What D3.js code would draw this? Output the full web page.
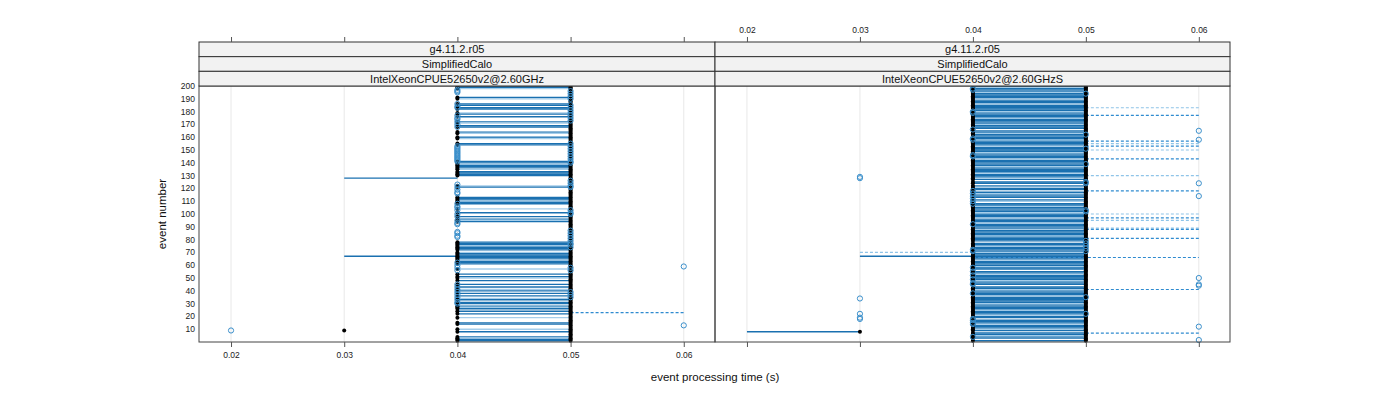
<!DOCTYPE html>
<html><head><meta charset="utf-8">
<script src="https://cdn.jsdelivr.net/npm/d3@7"></script>
<style>body{margin:0;background:#fff}svg{font-family:"Liberation Sans",Arial,sans-serif}</style>
</head><body><svg id="c" width="1400" height="400"></svg>
<script>
// ---------- data ----------
const events = [1,2,3,4,5,6,7,8,9,10,11,12,13,14,15,16,17,18,19,20,21,22,23,24,25,26,27,28,29,30,31,32,33,34,35,36,37,38,39,40,41,42,43,44,45,46,47,48,49,50,51,52,53,54,55,56,57,58,59,60,61,62,63,64,65,66,67,68,69,70,71,72,73,74,75,76,77,78,79,80,81,82,83,84,85,86,87,88,89,90,91,92,93,94,95,96,97,98,99,100,101,102,103,104,105,106,107,108,109,110,111,112,113,114,115,116,117,118,119,120,121,122,123,124,125,126,127,128,129,130,131,132,133,134,135,136,137,138,139,140,141,142,143,144,145,146,147,148,149,150,151,152,153,154,155,156,157,158,159,160,161,162,163,164,165,166,167,168,169,170,171,172,173,174,175,176,177,178,179,180,181,182,183,184,185,186,187,188,189,190,191,192,193,194,195,196,197,198,199,200];
const xTicks = [0.02, 0.03, 0.04, 0.05, 0.06];
const yTicks = [10,20,30,40,50,60,70,80,90,100,110,120,130,140,150,160,170,180,190,200];
const stripRows = ["g4.11.2.r05", "SimplifiedCalo"];
const machines = ["IntelXeonCPUE52650v2@2.60GHz", "IntelXeonCPUE52650v2@2.60GHzS"];

// panel A (left)
const bandA = [200,199,198,191,190,186,185,183,182,179,178,176,172,171,169,168,164,163,160,159,155,154,141,140,139,138,137,136,135,133,132,131,130,122,121,113,112,111,110,109,108,104,101,98,96,95,94,78,77,76,75,74,73,72,70,69,68,67,66,65,64,63,62,61,57,53,51,50,48,45,43,41,40,38,36,34,33,31,30,28,27,26,24,22,19,15,14,10,8,4,3,2,1];
const lightA = [198,190,179,171,163,159,139,135,122,110,104,95,75,70,64,57,50,41,34,27,19,10,3];
const blueA040 = [197,196,195,186,184,183,177,175,174,172,170,168,153,152,151,150,149,148,147,146,145,144,143,142,141,123,121,119,117,116,108,106,105,103,100,98,95,93,92,86,85,83,82,62,60,58,56,45,43,41,39,37,35,33,31,30];
const blueA050 = [196,194,192,190,185,183,181,179,177,175,173,155,153,151,149,147,145,143,141,140,126,124,122,121,103,101,100,87,85,83,81,79,77,76,74,58,56,39,37,35];
const blackA030 = [9];
const blueAother = [[0.02, 9], [0.06, 13], [0.06, 59]];
// [event, from, to, dashed, runs]
const segA = [[128, 0.03, 0.04, 0, 2], [67, 0.03, 0.04, 0, 2], [23, 0.05, 0.06, 1, 2]];

// panel B (right)
const gapsB = [166,126,123,118,112,109,78,56,44,18,8,2];
const lightB = [199,195,190,186,180,175,170,163,158,153,148,143,137,132,128,121,116,110,106,101,97,93,88,83,75,70,64,59,53,48,41,36,30,25,21,14,10,5];
const blueB040 = [198,197,180,179,166,159,158,146,145,118,116,114,112,110,108,92,72,71,58,55,52,49,46,45,38,18,17,15,14,4];
const blueB050 = [194,162,151,139,125,124,103,102,79,77,75,73,71,35,22];
const blackB030 = [8];
const blueBother = [[0.03,128],[0.03,129],[0.03,34],[0.03,22],[0.03,18],[0.03,19],[0.06,165],[0.06,158],[0.06,124],[0.06,114],[0.06,50],[0.06,44],[0.06,45],[0.06,12],[0.06,1]];
const segB = [[8,0.02,0.03,0,2],[67,0.03,0.04,0,2],[70,0.03,0.04,1,1],[66,0.04,0.06,1,2],
  [183,0.05,0.06,1,1],[177,0.05,0.06,1,2],[157,0.05,0.06,1,2],[155,0.05,0.06,1,1],[153,0.05,0.06,1,2],
  [150,0.05,0.06,1,1],[143,0.05,0.06,1,2],[130,0.05,0.06,1,1],[118,0.05,0.06,1,2],[100,0.05,0.06,1,1],
  [97,0.05,0.06,1,2],[95,0.05,0.06,1,1],[89,0.05,0.06,1,1],[88,0.05,0.06,1,2],[81,0.05,0.06,1,2],
  [41,0.05,0.06,1,2],[7,0.05,0.06,1,2]];

// ---------- drawing ----------
const svg = d3.select("#c");
const W0 = 199, W1 = 715, W2 = 1230, TOP = 86, BOT = 342;
const yS = d3.scaleLinear().domain([0, 200]).range([BOT, TOP]);
const xDom = [0.01717, 0.06276];
const colDark = "#1a70b0", colLight = "#a4cdea", colCircle = "#3a8fcb";
const shade = d3.scaleOrdinal().domain([1, 2]).range([colLight, colDark]);
const dashShade = d3.scaleOrdinal().domain([1, 2]).range(["#8fc4e8", "#2f8bd0"]);

const bandB = events.filter(e => gapsB.indexOf(e) < 0);

const panels = [
  {x0: W0, x1: W1, machine: machines[0], band: bandA, light: lightA, black040: bandA, black050: events,
   black030: blackA030, blue040: blueA040, blue050: blueA050, blueOther: blueAother, segs: segA, labelsTop: false},
  {x0: W1, x1: W2, machine: machines[1], band: bandB, light: lightB, black040: bandB, black050: events,
   black030: blackB030, blue040: blueB040, blue050: blueB050, blueOther: blueBother, segs: segB, labelsTop: true}
];

panels.forEach((p, pi) => {
  const x = d3.scaleLinear().domain(xDom).range([p.x0, p.x1]);
  const g = svg.append("g");
  g.selectAll("line.grid").data(xTicks).enter().append("line")
    .attr("x1", d => x(d)).attr("x2", d => x(d)).attr("y1", TOP).attr("y2", BOT)
    .attr("stroke", "#e8e8e8").attr("stroke-width", 1);
  g.selectAll("line.band").data(p.band).enter().append("line")
    .attr("x1", x(0.04)).attr("x2", x(0.05))
    .attr("y1", d => yS(d)).attr("y2", d => yS(d))
    .attr("stroke", d => shade(p.light.indexOf(d) >= 0 ? 1 : 2)).attr("stroke-width", 1.35);
  g.selectAll("line.seg").data(p.segs).enter().append("line")
    .attr("x1", d => x(d[1])).attr("x2", d => x(d[2]))
    .attr("y1", d => yS(d[0])).attr("y2", d => yS(d[0]))
    .style("stroke", d => d[3] ? dashShade(d[4]) : colDark)
    .style("stroke-width", d => d[3] ? "1.2px" : "1.3px")
    .style("stroke-dasharray", d => d[3] ? "3 2" : "none");
  const blk = [].concat(p.black040.map(e => [0.04, e]), p.black050.map(e => [0.05, e]), p.black030.map(e => [0.03, e]));
  g.selectAll("circle.blk").data(blk).enter().append("circle")
    .attr("cx", d => x(d[0])).attr("cy", d => yS(d[1])).attr("r", 2).attr("fill", "#000");
  const blu = [].concat(p.blue040.map(e => [0.04, e]), p.blue050.map(e => [0.05, e]), p.blueOther);
  g.selectAll("circle.blu").data(blu).enter().append("circle")
    .attr("cx", d => x(d[0])).attr("cy", d => Math.max(TOP + 2, Math.min(BOT - 2, yS(d[1])))).attr("r", 2.6)
    .attr("fill", "none").attr("stroke", colCircle).attr("stroke-width", 1);
  g.append("rect").attr("x", p.x0).attr("y", TOP).attr("width", p.x1 - p.x0).attr("height", BOT - TOP)
    .attr("fill", "none").attr("stroke", "#444").attr("stroke-width", 1);
  const rows = [stripRows[0], stripRows[1], p.machine];
  const sh = (TOP - 42) / 3;
  rows.forEach((t, i) => {
    g.append("rect").attr("x", p.x0).attr("y", 42 + i * sh).attr("width", p.x1 - p.x0).attr("height", sh)
      .attr("fill", "#f2f2f2").attr("stroke", "#333").attr("stroke-width", 1);
    g.append("text").attr("x", (p.x0 + p.x1) / 2).attr("y", 42 + i * sh + sh / 2 + 4)
      .attr("text-anchor", "middle").attr("font-size", 11).attr("fill", "#111").text(t);
  });
  const top = d3.axisTop(x).tickValues(xTicks).tickSize(5).tickSizeOuter(0).tickPadding(4)
    .tickFormat(p.labelsTop ? d3.format(".2f") : () => "");
  const gt = svg.append("g").attr("transform", `translate(0,42)`).call(top);
  const bot = d3.axisBottom(x).tickValues(xTicks).tickSize(5).tickSizeOuter(0).tickPadding(5)
    .tickFormat(p.labelsTop ? () => "" : d3.format(".2f"));
  const gb = svg.append("g").attr("transform", `translate(0,${BOT})`).call(bot);
  [gt, gb].forEach(a => {
    a.select(".domain").remove();
    a.selectAll("line").attr("stroke", "#555");
    a.selectAll("text").attr("font-size", 8.5).attr("fill", "#222")
      .attr("font-family", "Liberation Sans, Arial, sans-serif");
  });
});

svg.append("g").selectAll("text").data(yTicks).enter().append("text")
  .attr("x", 195).attr("y", d => yS(d) + 3).attr("text-anchor", "end")
  .attr("font-size", 8.5).attr("fill", "#222").text(d => d);

svg.append("text").attr("transform", "translate(166,214) rotate(-90)").attr("text-anchor", "middle")
  .attr("font-size", 11.5).attr("fill", "#111").text("event number");
svg.append("text").attr("x", 715).attr("y", 381).attr("text-anchor", "middle")
  .attr("font-size", 11.5).attr("fill", "#111").text("event processing time (s)");
</script></body></html>
